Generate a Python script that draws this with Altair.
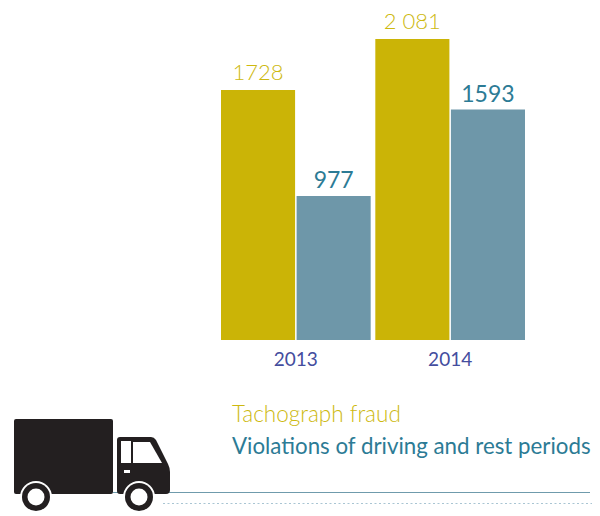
import altair as alt
import pandas as pd

years = ["2013", "2014"]
series = ["Tachograph fraud", "Violations of driving and rest periods"]
tachograph = [1728, 2081]
violations = [996, 1593]
tachograph_labels = ["1728", "2 081"]
violations_labels = ["977", "1593"]
gold, blue = "#cbb406", "#6e97a9"
gold_text, teal_text = "#cdb90f", "#2c7b95"
year_text = "#444d9e"
FONT = "Lato"

rows = []
for i, y in enumerate(years):
    rows.append({"year": y, "series": series[0], "value": tachograph[i], "label": tachograph_labels[i]})
    rows.append({"year": y, "series": series[1], "value": violations[i], "label": violations_labels[i]})
df = pd.DataFrame(rows)

x = alt.X("year:N", axis=None,
          scale=alt.Scale(domain=years, range=[213, 517], paddingInner=0.03, paddingOuter=0))
xo = alt.XOffset("series:N", scale=alt.Scale(domain=series, paddingInner=0.02, paddingOuter=0))
y = alt.Y("value:Q", axis=None, scale=alt.Scale(domain=[0, 2081], range=[332, 31], nice=False))
col = alt.Color("series:N", legend=None, scale=alt.Scale(domain=series, range=[gold, blue]))

bars = alt.Chart(df).mark_bar(cornerRadius=0).encode(x=x, xOffset=xo, y=y, color=col)
gold_labels = alt.Chart(df[df.series == series[0]]).mark_text(
    font=FONT, fontSize=22, fontWeight=300, baseline="bottom", dy=-5, color=gold_text
).encode(x=x, xOffset=xo, y=y, text="label:N")
teal_labels = alt.Chart(df[df.series == series[1]]).mark_text(
    font=FONT, fontSize=23, fontWeight=400, baseline="bottom", dy=-3, color=teal_text
).encode(x=x, xOffset=xo, y=y, text="label:N")

year_df = pd.DataFrame({"year": years})
year_labels = alt.Chart(year_df).mark_text(
    font=FONT, fontSize=19, fontWeight=400, baseline="alphabetic", color=year_text
).encode(x=x, y=alt.value(358), text="year:N")

legend1 = alt.Chart(pd.DataFrame({"t": [series[0]]})).mark_text(
    font=FONT, fontSize=22.5, fontWeight=300, align="left", baseline="alphabetic", color=gold_text
).encode(x=alt.value(224), y=alt.value(414), text="t:N")
legend2 = alt.Chart(pd.DataFrame({"t": [series[1]]})).mark_text(
    font=FONT, fontSize=22.3, fontWeight=400, align="left", baseline="alphabetic", color=teal_text
).encode(x=alt.value(224), y=alt.value(446), text="t:N")

solid = alt.Chart(pd.DataFrame({"a": [0]})).mark_rule(color="#6f9bac", strokeWidth=1).encode(
    x=alt.value(105), x2=alt.value(582), y=alt.value(484.5))
dotted = alt.Chart(pd.DataFrame({"a": [0]})).mark_rule(color="#a9c5d3", strokeWidth=1, strokeDash=[2, 2.5]).encode(
    x=alt.value(155), x2=alt.value(584), y=alt.value(495.5))

# truck outline, in page pixels relative to the symbol centre
CX, CY = 92, 465
def P(*cmds):
    out = []
    for c in cmds:
        if isinstance(c, str):
            out.append(c)
        else:
            out.append(f"{c[0]-CX} {c[1]-CY}")
    return " ".join(out)

box = P("M", (16, 419), "L", (111, 419), "Q", (113, 419), (113, 421), "L", (113, 492), "Q", (113, 494), (111, 494),
        "L", (16, 494), "Q", (14, 494), (14, 492), "L", (14, 421), "Q", (14, 419), (16, 419), "Z")
cab = P("M", (120, 437), "L", (151, 437), "Q", (154, 437), (156, 440), "L", (168, 464), "Q", (170, 468), (170, 472),
        "L", (170, 490), "Q", (170, 494), (166, 494), "L", (120, 494), "Q", (117, 494), (117, 491),
        "L", (117, 440), "Q", (117, 437), (120, 437), "Z")
pane1 = P("M", (121, 441), "L", (131, 441), "L", (131, 463), "L", (121, 463), "Z")
pane2 = P("M", (133, 442), "L", (150, 442), "L", (162, 463), "L", (133, 463), "Z")
vent = P("M", (124, 470), "L", (130, 470), "L", (130, 473), "L", (124, 473), "Z")

SIZE = 4
def part(path, color):
    return alt.Chart(pd.DataFrame({"a": [0]})).mark_point(
        shape=path, size=SIZE, filled=True, opacity=1, strokeWidth=0, color=color
    ).encode(x=alt.value(CX - 8), y=alt.value(CY - 8))

def wheel(cx, d, color):
    return alt.Chart(pd.DataFrame({"a": [0]})).mark_point(
        shape="circle", size=d * d, filled=True, opacity=1, strokeWidth=0, color=color
    ).encode(x=alt.value(cx - 8), y=alt.value(497 - 8))

black = "#231f20"
truck = [part(box, black), part(cab, black), part(pane1, "white"), part(pane2, "white"), part(vent, "white")]
for cx in (36, 139):
    truck += [wheel(cx, 32, "white"), wheel(cx, 28, black), wheel(cx, 17, "white")]

chart = alt.layer(
    solid, dotted, bars, gold_labels, teal_labels, year_labels, legend1, legend2, *truck
).resolve_scale(color="shared").properties(
    width=584, height=504, padding=0, autosize=alt.AutoSizeParams(type="none")
).configure_view(stroke=None)

chart.save("out.html", embed_options={"renderer": "svg", "actions": False})
